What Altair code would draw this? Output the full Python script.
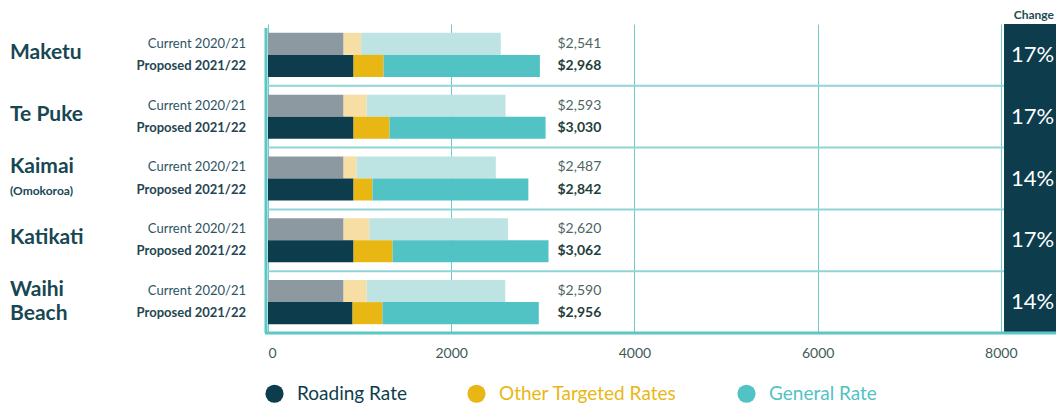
import altair as alt
import pandas as pd

towns = ["Maketu", "Te Puke", "Kaimai", "Katikati", "Waihi Beach"]
roading_current = [825, 825, 825, 825, 825]
other_current = [192, 253, 143, 282, 253]
total_current = [2541, 2593, 2487, 2620, 2590]
roading_proposed = [934, 934, 934, 934, 923]
other_proposed = [327, 393, 206, 426, 327]
total_proposed = [2968, 3030, 2842, 3062, 2956]
change_pct = ["17%", "17%", "14%", "17%", "14%"]
periods = ["Current", "Proposed"]
period_labels = ["Current 2020/21", "Proposed 2021/22"]
components = ["Roading Rate", "Other Targeted Rates", "General Rate"]
x_ticks = [0, 2000, 4000, 6000, 8000]
name_lines = [
    ("Maketu", "Maketu", "mid"),
    ("Te Puke", "Te Puke", "mid"),
    ("Kaimai", "Kaimai", "top"),
    ("Kaimai", "(Omokoroa)", "sub"),
    ("Katikati", "Katikati", "mid"),
    ("Waihi Beach", "Waihi", "top"),
    ("Waihi Beach", "Beach", "bottom"),
]

FONT = "Lato"
W, H = 788, 309
XMAX = 8602

bar_rows, lab_rows = [], []
for i, t in enumerate(towns):
    sets = [
        ("Current", roading_current[i], other_current[i], total_current[i]),
        ("Proposed", roading_proposed[i], other_proposed[i], total_proposed[i]),
    ]
    for j, (p, r, o, tot) in enumerate(sets):
        starts = [0, r, r + o]
        ends = [r, r + o, tot]
        for comp, s, e in zip(components, starts, ends):
            key = comp if p == "Proposed" else comp + " (current)"
            bar_rows.append(dict(town=t, period=p, comp=key, start=s, end=e))
        lab_rows.append(dict(town=t, period=p, plabel=period_labels[j],
                             amount="${:,}".format(tot)))
bars_df = pd.DataFrame(bar_rows)
labs_df = pd.DataFrame(lab_rows)
chg_df = pd.DataFrame(dict(town=towns, pct=change_pct))
names_df = pd.DataFrame(name_lines, columns=["town", "text", "pos"])

color_domain = components + [c + " (current)" for c in components]
color_range = ["#0d3d4d", "#e8b713", "#52c3c4", "#8c99a1", "#f6dea4", "#bde3e3"]

yscale = alt.Scale(domain=towns, paddingInner=0, paddingOuter=0)
yoff_scale = alt.Scale(domain=periods, paddingInner=0, paddingOuter=0.4)
xscale = alt.Scale(domain=[0, XMAX], nice=False, zero=True)

Y = alt.Y("town:N", scale=yscale, axis=None, sort=towns)
YO = alt.YOffset("period:N", scale=yoff_scale, sort=periods)

legend_color_expr = ("datum.label == 'Roading Rate' ? '#0d3d4d' : "
                     "datum.label == 'Other Targeted Rates' ? '#e8b713' : '#52c3c4'")

# horizontal group separators
sep = alt.Chart(names_df.drop_duplicates("town").iloc[1:]).mark_rule(
    color="#8fd5d5", strokeWidth=2
).encode(
    y=alt.Y("town:N", scale=yscale, axis=None, sort=towns, bandPosition=0),
    x=alt.value(0), x2=alt.value(W),
)

bars = alt.Chart(bars_df).mark_bar().encode(
    x=alt.X("start:Q", scale=xscale,
            axis=alt.Axis(values=x_ticks, title=None, ticks=False, domain=False,
                          grid=True, gridColor="#6ccaca", gridWidth=1,
                          labelFont=FONT, labelFontSize=14, labelColor="#3e5b59",
                          labelPadding=13, format="d")),
    x2="end:Q",
    y=Y, yOffset=YO,
    color=alt.Color("comp:N", scale=alt.Scale(domain=color_domain, range=color_range),
                    legend=alt.Legend(values=components, title=None, orient="none",
                                      legendX=-3, legendY=360, direction="horizontal",
                                      symbolType="circle", symbolSize=330,
                                      symbolStrokeWidth=0, labelFont=FONT,
                                      labelFontSize=19, labelOffset=13,
                                      labelLimit=400, columnPadding=60,
                                      labelColor=alt.ExprRef(expr=legend_color_expr))),
)

box = alt.Chart(chg_df).mark_rect(color="#0d3d4d").encode(
    x=alt.datum(8040), x2=alt.datum(XMAX), y=alt.value(0), y2=alt.value(H)
)

chg_text = alt.Chart(chg_df).mark_text(font=FONT, fontSize=22, color="white",
                                       align="center", baseline="middle").encode(
    x=alt.datum(8345), y=alt.Y("town:N", scale=yscale, axis=None, sort=towns), text="pct:N"
)

chg_head = alt.Chart(chg_df.iloc[:1]).mark_text(
    font=FONT, fontSize=12, fontWeight="bold", color="#1d4a55",
    align="center", baseline="middle"
).encode(x=alt.datum(8360), y=alt.value(-9), text=alt.value("Change"))

bottom_line = alt.Chart(chg_df.iloc[:1]).mark_rule(color="#5cc5c6", strokeWidth=3).encode(
    x=alt.value(-3), x2=alt.value(W), y=alt.value(H)
)
left_line = alt.Chart(chg_df.iloc[:1]).mark_rule(color="#5cc5c6", strokeWidth=3).encode(
    x=alt.value(-2), y=alt.value(4), y2=alt.value(H)
)

cur = labs_df[labs_df.period == "Current"]
pro = labs_df[labs_df.period == "Proposed"]

def period_text(df, bold):
    return alt.Chart(df).mark_text(
        font=FONT, fontSize=13, fontWeight="bold" if bold else "normal",
        color="#1f4652" if bold else "#2c5462", align="right", baseline="middle", dx=-22
    ).encode(x=alt.value(0), y=Y, yOffset=YO, text="plabel:N")

def amount_text(df, bold):
    return alt.Chart(df).mark_text(
        font=FONT, fontSize=14, fontWeight="bold" if bold else "normal",
        color="#1f3e3b" if bold else "#4f6562", align="left", baseline="middle"
    ).encode(x=alt.datum(3160), y=Y, yOffset=YO, text="amount:N")

def name_text(pos, size, dy, weight="bold"):
    return alt.Chart(names_df[names_df.pos == pos]).mark_text(
        font=FONT, fontSize=size, fontWeight=weight, color="#174753",
        align="left", baseline="middle", dy=dy
    ).encode(x=alt.value(-258), y=Y, text="text:N")

chart = alt.layer(
    sep, bars, box, chg_text, chg_head, bottom_line, left_line,
    period_text(cur, False), period_text(pro, True),
    amount_text(cur, False), amount_text(pro, True),
    name_text("mid", 21, -2), name_text("top", 21, -12),
    name_text("bottom", 21, 12), name_text("sub", 12, 12),
).properties(
    width=W, height=H,
    padding={"left": 260, "top": 16, "right": 0, "bottom": 73},
    autosize=alt.AutoSizeParams(type="none"),
).configure_view(stroke=None)

chart.save("out.html", embed_options={"renderer": "svg", "actions": False})
